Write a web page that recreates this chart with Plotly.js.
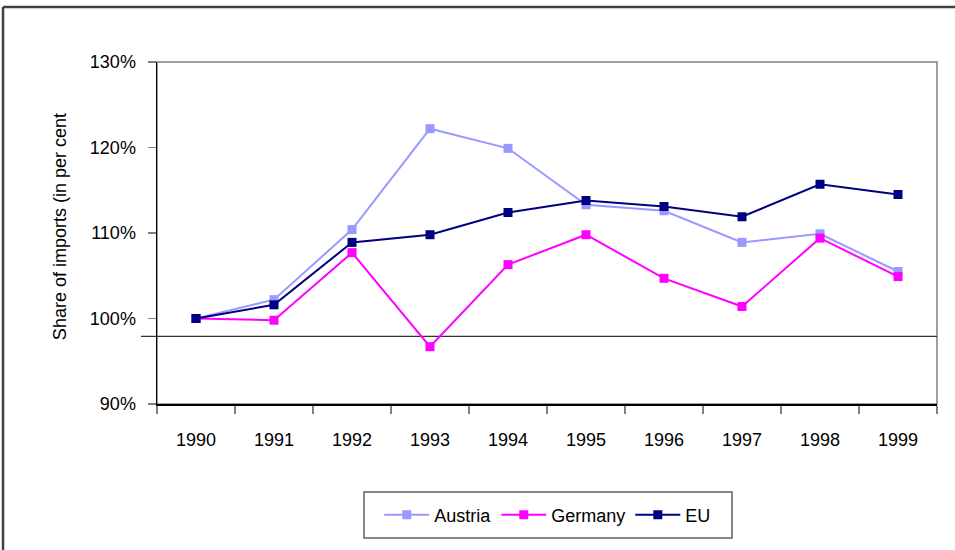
<!DOCTYPE html>
<html>
<head>
<meta charset="utf-8">
<script src="https://cdn.plot.ly/plotly-3.0.1.min.js"></script>
<style>html,body{margin:0;padding:0;background:#fff;}#chart{width:955px;height:550px;}</style>
</head>
<body>
<div id="chart"></div>
<script>
const years = ['1990','1991','1992','1993','1994','1995','1996','1997','1998','1999'];
const austria = [1.000, 1.022, 1.104, 1.222, 1.199, 1.133, 1.126, 1.089, 1.099, 1.055];
const germany = [1.000, 0.998, 1.077, 0.967, 1.063, 1.098, 1.047, 1.014, 1.094, 1.049];
const eu      = [1.000, 1.016, 1.089, 1.098, 1.124, 1.138, 1.131, 1.119, 1.157, 1.145];
const refLine = 0.979;

const font = {family: 'Liberation Sans, Arial, sans-serif', size: 18, color: '#000'};

function series(name, y, color) {
  return {
    type: 'scatter', mode: 'lines+markers', name: name,
    x: years, y: y,
    line: {color: color, width: 2},
    marker: {symbol: 'square', size: 9, color: color}
  };
}

const data = [
  series('Austria', austria, '#9999FF'),
  series('Germany', germany, '#FF00FF'),
  series('EU', eu, '#000080')
];

const layout = {
  width: 955, height: 550,
  margin: {l: 157, r: 18, t: 62, b: 146},
  paper_bgcolor: '#fff', plot_bgcolor: '#fff',
  font: font,
  showlegend: true,
  xaxis: {
    type: 'category', range: [-0.5, 9.5],
    tickson: 'boundaries', ticks: 'outside', ticklen: 8, tickcolor: '#808080', tickwidth: 1.5,
    showgrid: false, zeroline: false,
    showline: true, linecolor: '#000', linewidth: 1.5,
    ticklabelstandoff: 19,
    tickfont: font
  },
  yaxis: {
    range: [0.9, 1.3], dtick: 0.1, tick0: 0.9, tickformat: '.0%',
    ticks: 'outside', ticklen: 8, tickcolor: '#808080', tickwidth: 1.5,
    showgrid: false, zeroline: false,
    showline: true, linecolor: '#000', linewidth: 1.5,
    ticklabelstandoff: 8,
    tickfont: font
  },
  legend: {
    orientation: 'h', x: 0.501, xanchor: 'center', y: -0.3246, yanchor: 'middle',
    bgcolor: 'rgba(0,0,0,0)', borderwidth: 0, font: font,
    itemwidth: 45
  },
  annotations: [{
    text: 'Share of imports (in per cent', xref: 'paper', yref: 'paper',
    x: -0.1244, y: 0.52, xanchor: 'center', yanchor: 'middle',
    textangle: -90, showarrow: false, font: font
  }],
  shapes: [
    {type: 'rect', xref: 'paper', yref: 'paper', x0: 0, x1: 1, y0: 0, y1: 1,
     line: {color: '#808080', width: 1.5}, layer: 'below'},
    {type: 'line', xref: 'paper', yref: 'y', x0: -0.0205, x1: 1, y0: refLine, y1: refLine,
     line: {color: '#333', width: 1.2}, layer: 'below'},
    {type: 'rect', xref: 'paper', yref: 'paper', x0: 0.2654, x1: 0.7372, y0: -0.2573, y1: -0.3918,
     line: {color: '#606060', width: 1.5}, layer: 'below'},
    {type: 'line', xref: 'paper', yref: 'paper', x0: -0.1974, x1: 1.03, y0: 1.1608, y1: 1.1608,
     line: {color: '#404040', width: 2.5}},
    {type: 'line', xref: 'paper', yref: 'paper', x0: -0.1974, x1: -0.1974, y0: 1.1608, y1: -0.45,
     line: {color: '#404040', width: 2.5}}
  ]
};

Plotly.newPlot('chart', data, layout, {displayModeBar: false, staticPlot: true});
</script>
</body>
</html>
